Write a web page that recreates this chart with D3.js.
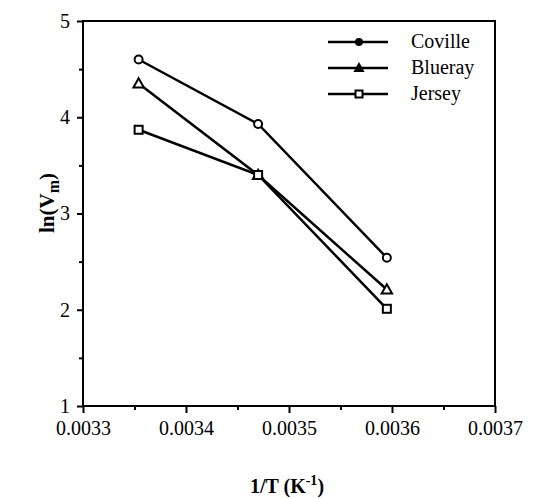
<!DOCTYPE html>
<html><head><meta charset="utf-8">
<script src="https://cdn.jsdelivr.net/npm/d3@7"></script>
<style>body{margin:0;background:#fff}svg{display:block}</style>
</head><body>
<svg id="c" width="544" height="498"></svg>
<script>
const xValues = [0.003354, 0.003470, 0.003595];
const coville = [4.60, 3.93, 2.54];
const blueray = [4.35, 3.40, 2.21];
const jersey = [3.87, 3.40, 2.01];
const seriesNames = ["Coville", "Blueray", "Jersey"];
const xTicks = [0.0033, 0.0034, 0.0035, 0.0036, 0.0037];
const yTicks = [1, 2, 3, 4, 5];

const series = [
  {name: seriesNames[0], values: coville, marker: "circle"},
  {name: seriesNames[1], values: blueray, marker: "triangle"},
  {name: seriesNames[2], values: jersey, marker: "square"}
];

const svg = d3.select("#c");
const L = 83, R = 495, T = 21, B = 406;
const x = d3.scaleLinear().domain([0.0033, 0.0037]).range([L, R]);
const y = d3.scaleLinear().domain([1, 5]).range([B, T]);
const font = "'Liberation Serif', 'Times New Roman', serif";

// frame
svg.append("rect").attr("x", L).attr("y", T).attr("width", R - L).attr("height", B - T)
  .attr("fill", "none").attr("stroke", "#000").attr("stroke-width", 2);

// x axis
const xMinor = d3.range(0, 4).map(i => 0.00335 + i * 0.0001);
const xa = svg.append("g").attr("transform", `translate(0,${B})`);
xa.call(d3.axisBottom(x).tickValues(xTicks).tickFormat(d3.format(".4f")).tickSize(7).tickPadding(8));
xa.append("g").call(d3.axisBottom(x).tickValues(xMinor).tickFormat("").tickSize(4));
xa.selectAll(".domain").remove();
xa.selectAll("line").attr("stroke", "#000").attr("stroke-width", 2);
xa.selectAll("text").attr("font-family", font).attr("font-size", 20).attr("fill", "#000");

// y axis
const yMinor = [1.5, 2.5, 3.5, 4.5];
const ya = svg.append("g").attr("transform", `translate(${L},0)`);
ya.call(d3.axisLeft(y).tickValues(yTicks).tickFormat(d3.format("d")).tickSize(6).tickPadding(7));
ya.append("g").call(d3.axisLeft(y).tickValues(yMinor).tickFormat("").tickSize(4));
ya.selectAll(".domain").remove();
ya.selectAll("line").attr("stroke", "#000").attr("stroke-width", 2);
ya.selectAll("text").attr("font-family", font).attr("font-size", 20).attr("fill", "#000");

// titles
const xt = svg.append("text").attr("x", 287).attr("y", 493).attr("text-anchor", "middle")
  .attr("font-family", font).attr("font-size", 20).attr("font-weight", "bold");
xt.append("tspan").text("1/T (K");
xt.append("tspan").attr("dy", -8).attr("font-size", 14).text("-1");
xt.append("tspan").attr("dy", 8).text(")");

const yt = svg.append("text").attr("transform", "translate(54,203) rotate(-90)").attr("text-anchor", "middle")
  .attr("font-family", font).attr("font-size", 21).attr("font-weight", "bold");
yt.append("tspan").text("ln(V");
yt.append("tspan").attr("dy", 5).attr("font-size", 16).text("m");
yt.append("tspan").attr("dy", -5).text(")");

// lines
const line = d3.line().x((d, i) => x(xValues[i])).y(d => y(d));
function marker(g, type, cx, cy, filled, size) {
  const f = filled ? "#000" : "#fff";
  if (type === "circle") {
    g.append("circle").attr("cx", cx).attr("cy", cy).attr("r", size)
      .attr("fill", f).attr("stroke", "#000").attr("stroke-width", 2);
  } else if (type === "triangle") {
    const s = size * 1.3;
    g.append("path").attr("d", `M${cx},${cy - s}L${cx + s},${cy + s * 0.75}L${cx - s},${cy + s * 0.75}Z`)
      .attr("fill", f).attr("stroke", "#000").attr("stroke-width", 2);
  } else {
    g.append("rect").attr("x", cx - size).attr("y", cy - size).attr("width", size * 2).attr("height", size * 2)
      .attr("fill", f).attr("stroke", "#000").attr("stroke-width", 2);
  }
}
series.forEach(s => {
  svg.append("path").attr("d", line(s.values)).attr("fill", "none")
    .attr("stroke", "#000").attr("stroke-width", 2.5);
});
series.forEach(s => {
  const g = svg.append("g");
  s.values.forEach((v, i) => marker(g, s.marker, x(xValues[i]), y(v), false, 4));
});

// legend
const legY = [42, 68, 94];
series.forEach((s, i) => {
  const g = svg.append("g");
  g.append("line").attr("x1", 328).attr("x2", 388).attr("y1", legY[i]).attr("y2", legY[i])
    .attr("stroke", "#000").attr("stroke-width", 2.5);
  marker(g, s.marker, 359, legY[i], s.marker !== "square", s.marker === "square" ? 3.5 : 3);
  g.append("text").attr("x", 411).attr("y", legY[i] + 6).text(s.name)
    .attr("font-family", font).attr("font-size", 20).attr("fill", "#000");
});
</script>
</body></html>
